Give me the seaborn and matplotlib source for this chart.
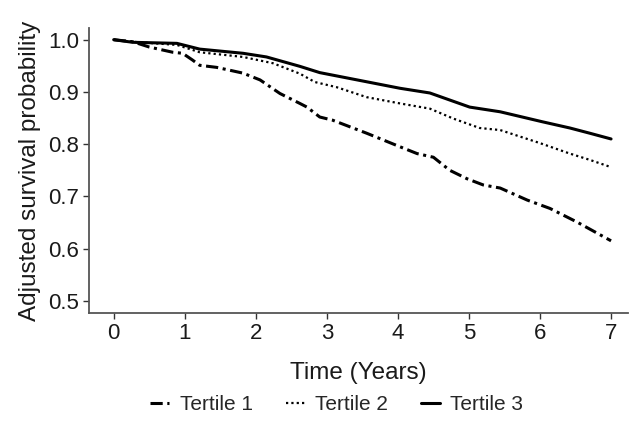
import matplotlib.pyplot as plt
import pandas as pd
import seaborn as sns

# survival curves (time in years, adjusted survival)
t1_time = [0, 0.27, 0.5, 0.83, 0.97, 1.11, 1.21, 1.45, 1.82, 2.06, 2.34, 2.62, 2.72, 2.9, 3.08,
           3.56, 4.03, 4.27, 4.5, 4.73, 4.97, 5.2, 5.44, 5.82, 6.14, 6.52, 6.8, 7.0]
t1_surv = [1.0, 0.996, 0.986, 0.976, 0.974, 0.961, 0.951, 0.947, 0.936, 0.923, 0.897, 0.878, 0.871, 0.852, 0.846,
           0.821, 0.795, 0.782, 0.775, 0.750, 0.734, 0.722, 0.716, 0.693, 0.677, 0.651, 0.630, 0.615]

t2_time = [0, 0.27, 0.89, 1.21, 1.82, 2.24, 2.62, 2.83, 3.14, 3.56, 4.03, 4.45, 4.78, 5.15, 5.44,
           6.0, 6.42, 6.7, 7.0]
t2_surv = [1.0, 0.996, 0.99, 0.976, 0.967, 0.955, 0.935, 0.919, 0.909, 0.890, 0.878, 0.868, 0.849, 0.831, 0.827,
           0.802, 0.782, 0.770, 0.756]

t3_time = [0, 0.27, 0.89, 1.21, 1.82, 2.15, 2.62, 2.9, 4.03, 4.45, 5.01, 5.44, 6.03, 6.42, 6.7, 7.0]
t3_surv = [1.0, 0.995, 0.993, 0.982, 0.974, 0.967, 0.949, 0.937, 0.907, 0.898, 0.871, 0.862, 0.843, 0.831, 0.821, 0.810]

labels = ['Tertile 1', 'Tertile 2', 'Tertile 3']

sns.set_style('white')
plt.rcParams['font.family'] = ['Liberation Sans', 'DejaVu Sans']

df = pd.concat([
    pd.DataFrame({'time': t1_time, 'surv': t1_surv, 'group': labels[0]}),
    pd.DataFrame({'time': t2_time, 'surv': t2_surv, 'group': labels[1]}),
    pd.DataFrame({'time': t3_time, 'surv': t3_surv, 'group': labels[2]}),
])

fig, ax = plt.subplots(figsize=(6.3, 4.34), dpi=100)
fig.subplots_adjust(left=0.141, right=0.997, top=0.935, bottom=0.279)

styles = {
    'Tertile 1': dict(lw=2.2, dashes=[4, 1.5, 1, 1.5]),
    'Tertile 2': dict(lw=1.6, dashes=[1, 1.4]),
    'Tertile 3': dict(lw=2.2),
}
for name in labels:
    sub = df[df['group'] == name]
    sns.lineplot(data=sub, x='time', y='surv', ax=ax, color='black',
                 lw=styles[name]['lw'], label=name, estimator=None)
    if 'dashes' in styles[name]:
        ax.lines[-1].set_dashes(styles[name]['dashes'])

ax.set_xlim(-0.35, 7.24)
ax.set_ylim(0.477, 1.022)
ax.set_xticks(range(0, 8))
ax.set_yticks([0.5, 0.6, 0.7, 0.8, 0.9, 1.0])
ax.set_yticklabels(['0.5', '0.6', '0.7', '0.8', '0.9', '1.0'])
ax.tick_params(axis='both', labelsize=16, length=4, width=1, color='#333333',
               direction='out', bottom=True, left=True, labelcolor='#1a1a1a', pad=3)
for side in ['top', 'right']:
    ax.spines[side].set_visible(False)
for side in ['left', 'bottom']:
    ax.spines[side].set_color('#555555')
    ax.spines[side].set_linewidth(1.3)

ax.set_xlabel('Time (Years)', fontsize=17.5, labelpad=13, color='#1a1a1a')
ax.set_ylabel('Adjusted survival probability', fontsize=17.5, labelpad=5, color='#1a1a1a')

leg = ax.legend(loc='center', bbox_to_anchor=(0.46, -0.323), ncol=3, frameon=False,
                fontsize=15, handlelength=0.9, handletextpad=0.5, columnspacing=1.6)

plt.savefig('out.png', dpi=100)
